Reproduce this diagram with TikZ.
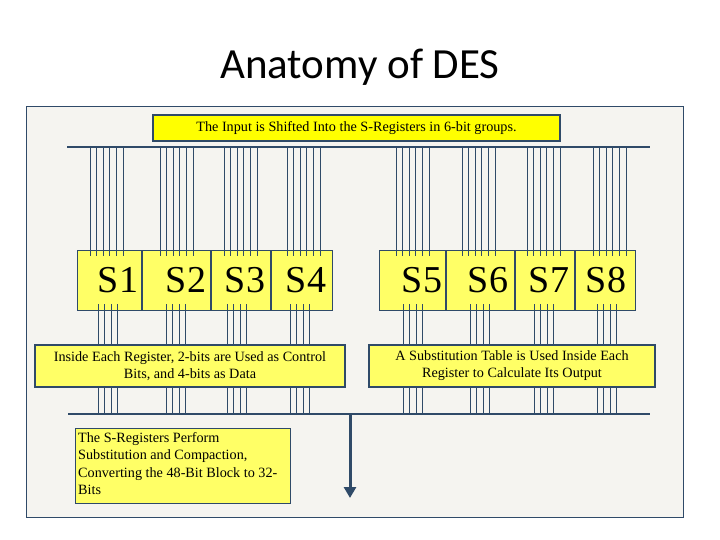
\documentclass[tikz,border=0pt]{standalone}
\usepackage{fontspec}
\setmainfont{Liberation Serif}
\newfontfamily\titlefont{Carlito}
\usetikzlibrary{arrows.meta}
\definecolor{frame}{HTML}{2F4A68}
\definecolor{panel}{HTML}{F5F4F0}
\definecolor{yel}{HTML}{FFFF66}
\definecolor{yel2}{HTML}{FFFF00}
\tikzset{
  wire/.style={draw=frame, line width=0.9pt},
  bus/.style={draw=frame, line width=1.6pt},
  sbox/.style={draw=frame, fill=yel, line width=0.8pt},
  note/.style={draw=frame, fill=yel, line width=1.6pt, font=\fontsize{14.2}{17}\selectfont, align=center, inner sep=0pt},
}
\begin{document}
\begin{tikzpicture}[x=1pt,y=-1pt]
\useasboundingbox (0,0) rectangle (720,540);
\fill[white] (0,0) rectangle (720,540);
\node (title) at (360,67) {\titlefont\fontsize{43}{46}\selectfont Anatomy of DES};
\draw[frame, fill=panel, line width=0.8pt] (26,106) rectangle (683,517);
% buses
\coordinate (tbl) at (67,147); \coordinate (tbr) at (650,147);
\coordinate (bbl) at (68,414); \coordinate (bbr) at (650,414);
% S boxes
\draw[sbox] (77,250) rectangle (142,310);
\draw[sbox] (142,250) rectangle (211,310);
\draw[sbox] (211,250) rectangle (271,310);
\draw[sbox] (271,250) rectangle (332,310);
\draw[sbox] (379,250) rectangle (446,310);
\draw[sbox] (446,250) rectangle (515,310);
\draw[sbox] (515,250) rectangle (575,310);
\draw[sbox] (575,250) rectangle (635,310);
\draw[frame, line width=1.5pt] (142,250)--(142,310) (446,250)--(446,310) (515,250)--(515,310) (575,250)--(575,310) (211,250)--(211,310) (271,250)--(271,310);
\foreach \t/\x in {S1/118,S2/186,S3/245,S4/306,S5/422,S6/488,S7/549,S8/606}
  \node[font=\fontsize{38}{42}\selectfont] (\t) at (\x,280) {\t};
% input wires
\foreach \s in {90,160,224,287,396,462,527,593}
  \foreach \i in {0,...,5}
    \draw[wire] (\s+\i*6.6,147) -- (\s+\i*6.6,256);
% output wires
\foreach \s in {98,166,227,290,403,470,534,597}
  \foreach \i in {0,...,3}
    \draw[wire] (\s+\i*6.6,304) -- (\s+\i*6.6,414);
\draw[bus] (tbl) -- (tbr);
\draw[bus] (bbl) -- (bbr);
% notes
\node[note, minimum width=407pt, minimum height=26pt, fill=yel2] (in) at (356.5,128) {The Input is Shifted Into the S-Registers in 6-bit groups.};
\node[note, minimum width=310pt, minimum height=42pt] (ctl) at (190,366) {Inside Each Register, 2-bits are Used as Control\\Bits, and 4-bits as Data};
\node[note, minimum width=286pt, minimum height=42pt] (tab) at (512,366) {A Substitution Table is Used Inside Each\\Register to Calculate Its Output};
\node[draw=frame, fill=yel, line width=0.8pt, minimum width=215pt, minimum height=75pt, inner sep=3pt] (perf) at (182.5,465.5) {};
\node[anchor=north west, align=left, font=\fontsize{14.2}{17.4}\selectfont, inner sep=0pt] (perft) at (78,432) {The S-Registers Perform\\Substitution and Compaction,\\Converting the 48-Bit Block to 32-\\Bits};
\coordinate (ain) at (350,414);
\coordinate (aout) at (350,498);
\draw[frame, line width=3pt, -{Triangle[length=11pt,width=12pt]}] (ain) -- (aout);
\end{tikzpicture}
\end{document}
